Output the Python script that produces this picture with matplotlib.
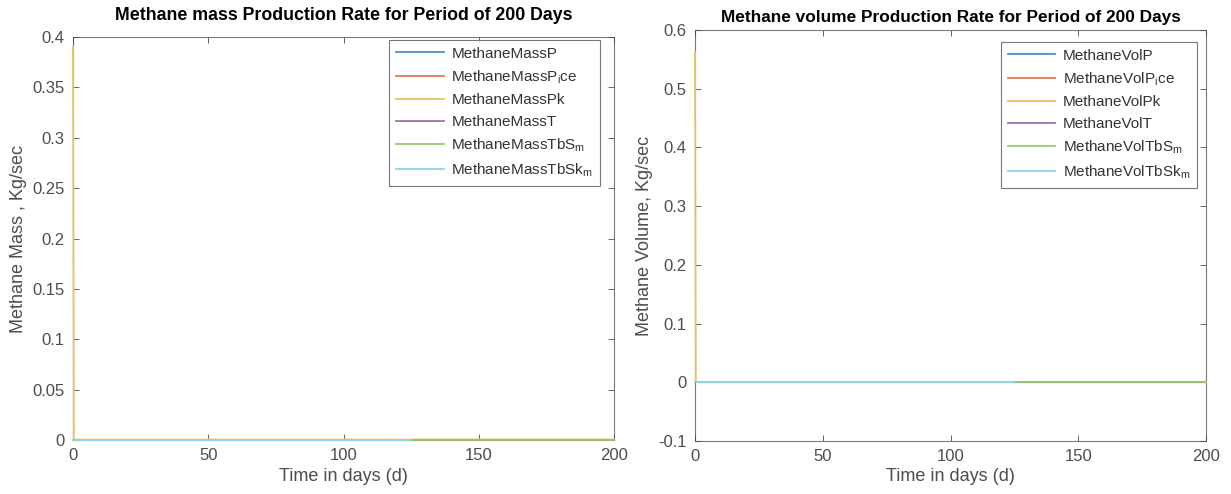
import matplotlib
matplotlib.use('Agg')
import matplotlib.pyplot as plt

plt.rcParams['font.family'] = ['Liberation Sans', 'DejaVu Sans']
plt.rcParams['mathtext.fontset'] = 'custom'
plt.rcParams['mathtext.rm'] = 'Liberation Sans'
plt.rcParams['mathtext.it'] = 'Liberation Sans'

# MATLAB default line colours (slightly washed out as in the scan)
COLORS = ['#4a90c8', '#e07a50', '#ecc060', '#a070b0', '#9cc870', '#8fd4f0']

# time axis (days) for the long series and the shorter TbSk series
days = [0, 0.3, 1, 50, 100, 150, 200]
days_short = [0, 0.3, 1, 50, 100, 125]

# mass production rates (kg/sec)
mass_P = [0.0005, 0.0005, 0.0005, 0.0005, 0.0005, 0.0005, 0.0005]
mass_Pice = [0.0005, 0.0005, 0.0005, 0.0005, 0.0005, 0.0005, 0.0005]
mass_Pk = [0.390, 0.001, 0.0005, 0.0005, 0.0005, 0.0005, 0.0005]
mass_T = [0.0005, 0.0005, 0.0005, 0.0005, 0.0005, 0.0005, 0.0005]
mass_TbS = [0.0005, 0.0005, 0.0005, 0.0005, 0.0005, 0.0005, 0.0005]
mass_TbSk = [0.0005, 0.0005, 0.0005, 0.0005, 0.0005, 0.0005]

# volume production rates
vol_P = [0.0, 0.0, 0.0, 0.0, 0.0, 0.0, 0.0]
vol_Pice = [0.0, 0.0, 0.0, 0.0, 0.0, 0.0, 0.0]
vol_Pk = [0.563, 0.001, 0.0, 0.0, 0.0, 0.0, 0.0]
vol_T = [0.0, 0.0, 0.0, 0.0, 0.0, 0.0, 0.0]
vol_TbS = [0.0, 0.0, 0.0, 0.0, 0.0, 0.0, 0.0]
vol_TbSk = [0.0, 0.0, 0.0, 0.0, 0.0, 0.0]

mass_labels = ['MethaneMassP', r'MethaneMassP$_{i}$ce', 'MethaneMassPk',
               'MethaneMassT', r'MethaneMassTbS$_{m}$', r'MethaneMassTbSk$_{m}$']
vol_labels = ['MethaneVolP', r'MethaneVolP$_{i}$ce', 'MethaneVolPk',
              'MethaneVolT', r'MethaneVolTbS$_{m}$', r'MethaneVolTbSk$_{m}$']

TICK_COLOR = '#4d4d4d'

fig = plt.figure(figsize=(12.31, 4.94), dpi=100)
ax1 = fig.add_axes([0.0593, 0.1093, 0.4395, 0.8158])
ax2 = fig.add_axes([0.5646, 0.1073, 0.4151, 0.8320])


def draw(ax, series, labels, anchor):
    for i, (y, lab) in enumerate(zip(series, labels)):
        x = days_short if i == 5 else days
        ax.plot(x, y, color=COLORS[i], lw=1.3, label=lab, zorder=3, clip_on=False)
    ax.set_xlim(0, 200)
    ax.set_xticks([0, 50, 100, 150, 200])
    ax.tick_params(direction='in', length=4, colors=TICK_COLOR, labelsize=12,
                   top=True, right=True, width=0.6, pad=6)
    for s in ax.spines.values():
        s.set_color('#7a7a7a')
        s.set_linewidth(0.8)
        s.set_zorder(1)
    ax.set_xlabel('Time in days (d)', fontsize=13, color='#4d4d4d', labelpad=3)
    leg = ax.legend(loc='upper right', bbox_to_anchor=anchor, borderaxespad=0,
                    fontsize=11, frameon=True, fancybox=False, handlelength=3.1,
                    handletextpad=0.5, borderpad=0.45, labelspacing=0.5)
    leg.get_frame().set_edgecolor('#555555')
    leg.get_frame().set_linewidth(0.8)
    for t in leg.get_texts():
        t.set_color('#333333')


draw(ax1, [mass_P, mass_Pice, mass_Pk, mass_T, mass_TbS, mass_TbSk], mass_labels, (0.974, 0.993))
ax1.set_ylim(0, 0.4)
ax1.set_yticks([0, 0.05, 0.1, 0.15, 0.2, 0.25, 0.3, 0.35, 0.4])
ax1.set_yticklabels(['0', '0.05', '0.1', '0.15', '0.2', '0.25', '0.3', '0.35', '0.4'])
ax1.set_ylabel('Methane Mass , Kg/sec', fontsize=13, color='#4d4d4d', labelpad=4)
ax1.set_title('Methane mass Production Rate for Period of 200 Days',
              fontsize=12.8, fontweight='bold', pad=12)

draw(ax2, [vol_P, vol_Pice, vol_Pk, vol_T, vol_TbS, vol_TbSk], vol_labels, (0.982, 0.971))
ax2.set_ylim(-0.1, 0.6)
ax2.set_yticks([-0.1, 0, 0.1, 0.2, 0.3, 0.4, 0.5, 0.6])
ax2.set_yticklabels(['-0.1', '0', '0.1', '0.2', '0.3', '0.4', '0.5', '0.6'])
ax2.set_ylabel('Methane Volume, Kg/sec', fontsize=13, color='#4d4d4d', labelpad=4)
ax2.set_title('Methane volume Production Rate for Period of 200 Days',
              fontsize=12.4, fontweight='bold', pad=6)

fig.savefig('out.png', dpi=100)
